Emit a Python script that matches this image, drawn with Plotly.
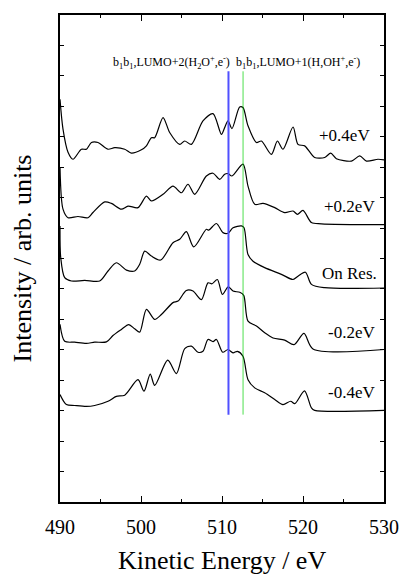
import plotly.graph_objects as go

# ---- data ----
e_p04 = [490.0, 490.37, 490.99, 491.60, 492.64, 493.26, 493.88, 494.69, 495.93, 496.75, 497.99, 498.81,
         500.05, 500.67, 501.28, 501.69, 502.72, 503.54, 504.78, 505.39, 506.22, 507.65, 508.89, 509.93,
         510.33, 510.74, 511.23, 512.18, 512.59, 513.21, 514.25, 514.86, 516.10, 516.84, 517.53, 518.77,
         519.38, 520.21, 521.44, 522.68, 523.42, 524.12, 525.98, 527.0, 527.83, 529.26, 530.0]
i_p04 = [13.23, 12.25, 11.49, 11.26, 11.59, 11.59, 11.81, 11.81, 11.59, 11.64, 11.59, 11.46,
         11.57, 11.70, 11.97, 11.97, 12.63, 12.14, 11.75, 11.86, 11.75, 12.52, 12.76, 12.08,
         12.30, 12.52, 12.27, 12.98, 12.96, 12.36, 11.81, 11.86, 11.42, 11.86, 11.59, 12.32,
         11.75, 11.70, 11.32, 11.32, 11.46, 11.28, 11.20, 11.37, 11.20, 11.26, 11.24]

e_p02 = [490.0, 490.37, 490.99, 492.22, 493.46, 494.07, 495.52, 496.35, 497.58, 498.40, 499.63, 500.67,
         501.28, 502.72, 503.95, 504.99, 505.80, 506.63, 508.07, 508.89, 509.72, 510.33, 510.74, 511.23,
         512.59, 513.21, 514.04, 515.06, 516.51, 517.74, 518.77, 519.31, 520.0, 521.04, 522.27, 530.0]
i_p02 = [11.0, 9.62, 9.34, 9.38, 9.34, 9.51, 9.86, 9.81, 9.62, 9.72, 9.67, 10.05,
         9.89, 10.11, 10.38, 10.16, 10.44, 10.11, 10.71, 10.80, 10.60, 10.77, 10.79, 10.71,
         11.10, 10.38, 9.78, 9.81, 9.67, 9.51, 9.56, 9.45, 9.58, 9.18, 9.14, 9.11]

e_on = [490.0, 490.09, 490.58, 491.41, 493.05, 494.90, 495.93, 496.96, 498.20, 499.22, 499.84, 500.46,
        501.28, 502.43, 503.95, 504.78, 505.60, 506.51, 508.07, 508.36, 509.31, 510.12, 510.74, 511.36,
        512.40, 512.72, 513.21, 513.83, 515.27, 517.33, 518.77, 519.38, 520.30, 521.04, 522.68, 530.0]
i_on = [9.07, 8.03, 7.37, 7.26, 7.28, 7.26, 7.59, 7.86, 7.62, 7.59, 7.81, 8.24,
        8.08, 7.95, 8.52, 8.63, 8.88, 8.38, 8.96, 8.93, 9.15, 8.85, 8.83, 9.01,
        9.07, 9.01, 8.13, 7.91, 7.70, 7.48, 7.31, 7.42, 7.55, 7.15, 7.04, 7.03]

e_m02 = [490.0, 490.58, 491.81, 493.26, 494.28, 495.73, 496.54, 497.58, 498.48, 499.22, 499.84, 500.67,
         501.69, 502.52, 503.95, 504.57, 505.60, 506.42, 507.46, 508.27, 508.77, 509.43, 510.05, 510.77,
         511.36, 512.19, 512.68, 513.21, 514.25, 515.27, 516.30, 517.74, 518.89, 520.12, 521.23, 530.0]
i_m02 = [5.84, 5.28, 5.25, 5.21, 5.25, 5.26, 5.47, 5.67, 5.83, 5.69, 5.58, 6.33,
         6.00, 6.16, 6.55, 6.60, 6.95, 6.93, 6.65, 7.20, 7.17, 7.31, 6.82, 7.07,
         6.93, 6.89, 6.79, 5.94, 5.78, 5.56, 5.39, 5.32, 5.17, 5.54, 5.03, 5.01]

e_m04 = [490.0, 490.79, 491.81, 493.26, 494.28, 495.93, 496.96, 497.99, 499.63, 500.37, 501.14, 501.69,
         503.30, 504.37, 505.40, 506.22, 507.04, 507.65, 508.27, 508.89, 509.31, 510.09, 510.74, 511.36,
         511.90, 512.59, 513.21, 514.04, 515.27, 516.51, 517.53, 518.48, 518.98, 520.19, 521.04, 521.44, 530.0]
i_m04 = [3.53, 3.20, 3.17, 3.14, 3.17, 3.31, 3.47, 3.51, 4.02, 3.64, 4.20, 3.83,
         4.66, 4.22, 5.04, 5.12, 4.92, 4.95, 5.34, 5.27, 5.34, 4.92, 5.01, 4.90,
         4.95, 4.79, 4.02, 3.75, 3.59, 3.37, 3.20, 3.31, 3.23, 3.65, 3.09, 3.01, 3.01]

series_names = ["+0.4eV", "+0.2eV", "On Res.", "-0.2eV", "-0.4eV"]
series_x = [e_p04, e_p02, e_on, e_m02, e_m04]
series_y = [i_p04, i_p02, i_on, i_m02, i_m04]
label_x = [525.15, 525.77, 525.77, 525.97, 525.97]
label_y = [12.05, 9.72, 7.51, 5.58, 3.59]

marker_energies = [510.8, 512.6]
marker_span = [2.87, 14.15]
marker_texts = ["b<sub>1</sub>b<sub>1</sub>,LUMO+2(H<sub>2</sub>O<sup>+</sup>,e<sup>-</sup>)",
                "b<sub>1</sub>b<sub>1</sub>,LUMO+1(H,OH<sup>+</sup>,e<sup>-</sup>)"]
marker_text_y = 14.45

x_range = [490, 530]
y_range = [0, 16]

FONT = "Liberation Serif, Times New Roman, serif"

fig = go.Figure()
for name, xs, ys in zip(series_names, series_x, series_y):
    fig.add_trace(go.Scatter(x=xs, y=ys, mode="lines", name=name,
                             line=dict(color="black", width=1.2, shape="spline", smoothing=0.8),
                             showlegend=False, hoverinfo="skip"))

marker_colors = ["rgb(80,80,255)", "rgb(0,210,0)"]
marker_widths = [2, 0.7]
for ex, col, w in zip(marker_energies, marker_colors, marker_widths):
    fig.add_trace(go.Scatter(x=[ex, ex], y=marker_span, mode="lines",
                             line=dict(color=col, width=w), showlegend=False, hoverinfo="skip"))

annotations = []
for name, lx, ly in zip(series_names, label_x, label_y):
    annotations.append(dict(x=lx, y=ly, xref="x", yref="y", text=name, showarrow=False,
                            font=dict(family=FONT, size=17, color="black"),
                            xanchor="center", yanchor="middle"))
annotations.append(dict(x=marker_energies[0] + 0.4, y=marker_text_y, xref="x", yref="y",
                        text=marker_texts[0], showarrow=False, xanchor="right", yanchor="middle",
                        font=dict(family=FONT, size=12, color="black")))
annotations.append(dict(x=marker_energies[0] + 0.7, y=marker_text_y, xref="x", yref="y",
                        text=marker_texts[1], showarrow=False, xanchor="left", yanchor="middle",
                        font=dict(family=FONT, size=12, color="black")))
annotations.append(dict(x=0.5, y=0, xref="paper", yref="paper", text="Kinetic Energy / eV",
                        showarrow=False, xanchor="center", yanchor="middle", yshift=-58,
                        font=dict(family=FONT, size=26, color="black")))
annotations.append(dict(x=0, y=0.5, xref="paper", yref="paper", text="Intensity / arb. units",
                        showarrow=False, xanchor="center", yanchor="middle", xshift=-38,
                        textangle=-90, font=dict(family=FONT, size=26, color="black")))

fig.update_layout(
    width=401, height=574,
    margin=dict(l=60, r=17, t=15, b=72, autoexpand=False),
    paper_bgcolor="white", plot_bgcolor="white",
    annotations=annotations,
)
fig.update_xaxes(range=x_range, showgrid=False, zeroline=False, automargin=False,
                 showline=True, linecolor="black", linewidth=1.5, mirror="ticks",
                 ticks="inside", ticklen=6, tickwidth=1.2, tickcolor="black",
                 tick0=490, dtick=10, ticklabelstandoff=6,
                 minor=dict(ticks="inside", ticklen=3, dtick=5, tickcolor="black", tickwidth=1.2),
                 tickfont=dict(family=FONT, size=20, color="black"))
fig.update_yaxes(range=y_range, showgrid=False, zeroline=False, automargin=False,
                 showline=True, linecolor="black", linewidth=1.5, mirror="ticks",
                 ticks="inside", ticklen=4, tickwidth=1.2, tickcolor="black",
                 tick0=0, dtick=1, showticklabels=False)

fig.write_html("out.html", config={"displayModeBar": False},
               post_script="document.body.style.margin='0';document.body.style.overflow='hidden';")
